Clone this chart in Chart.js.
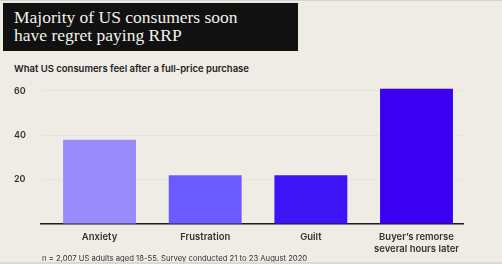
<!DOCTYPE html>
<html>
<head>
<meta charset="utf-8">
<script src="https://cdn.jsdelivr.net/npm/chart.js@4"></script>
<style>
  body { margin: 0; }
  #page { position: relative; width: 502px; height: 264px; background: #efebe5; overflow: hidden;
          border-top: 1px solid #d6d3ce; box-sizing: border-box; }
  #titlebox { position: absolute; left: 3px; top: 2px; width: 295px; height: 48px; background: #111; }
  #title { position: absolute; left: 11px; top: 6px; color: #f4f1eb; font-family: "Liberation Serif", serif;
           font-size: 17.5px; line-height: 17.5px; }
  #subtitle { position: absolute; left: 14px; top: 62px; font-family: Inter, sans-serif; font-weight: 600;
              font-size: 9.5px; color: #222; }
  #wrap { position: absolute; left: 0; top: 71px; width: 502px; height: 184px; }
  #note { position: absolute; left: 42px; top: 253px; font-family: Inter, sans-serif; font-size: 7.7px; color: #333; }
  #bottom { position: absolute; left: 0; bottom: 0; width: 502px; height: 2px; background: #dcd9d4; }
</style>
</head>
<body>
<div id="page">
  <div id="titlebox"><div id="title">Majority of US consumers soon<br>have regret paying RRP</div></div>
  <div id="subtitle">What US consumers feel after a full-price purchase</div>
  <div id="wrap"><canvas id="myChart" width="502" height="184"></canvas></div>
  <div id="note">n = 2,007 US adults aged 18-55. Survey conducted 21 to 23 August 2020</div>
  <div id="bottom"></div>
</div>
<script>
// categories and values
const categories = ["Anxiety", "Frustration", "Guilt", ["Buyer\u2019s remorse", "several hours later"]];
const values = [38, 22, 22, 61];
const barColors = ["#9a8bfb", "#6b5bfe", "#3c14f6", "#3b00f4"];
const yTicks = [20, 40, 60];

const ctx = document.getElementById("myChart").getContext("2d");
const myChart = new Chart(ctx, {
  type: "bar",
  data: {
    datasets: [
      {
        data: values.map((v, i) => ({ x: i, y: v })),
        backgroundColor: barColors,
        borderWidth: 0,
        categoryPercentage: 1,
        barPercentage: 0.69,
      },
    ],
  },
  options: {
    responsive: false,
    devicePixelRatio: 1,
    animation: false,
    layout: { padding: { left: 14, top: 10, right: 39, bottom: 0 } },
    plugins: { legend: { display: false }, tooltip: { enabled: false } },
    scales: {
      x: {
        type: "linear",
        offset: false,
        min: -0.554,
        max: 3.44,
        afterFit: (s) => { s.height = 32; },
        grid: { display: false, drawTicks: false },
        border: { display: true, color: "#1c1c1c", width: 1.5 },
        ticks: {
          stepSize: 1,
          includeBounds: false,
          padding: 7,
          color: "#333",
          font: { family: "Inter", size: 9.5, weight: "600", lineHeight: 1.25 },
          callback: (v) => categories[v],
        },
      },
      y: {
        min: 0,
        max: 64,
        afterFit: (s) => { s.width = 27; },
        grid: { color: "rgba(0,0,0,0.035)", drawTicks: false },
        border: { display: false },
        ticks: {
          stepSize: 20,
          includeBounds: false,
          crossAlign: "far",
          color: "#333",
          font: { family: "Inter", size: 9, weight: "600" },
          callback: (v) => (yTicks.includes(v) ? v : ""),
        },
      },
    },
  },
});
</script>
</body>
</html>
